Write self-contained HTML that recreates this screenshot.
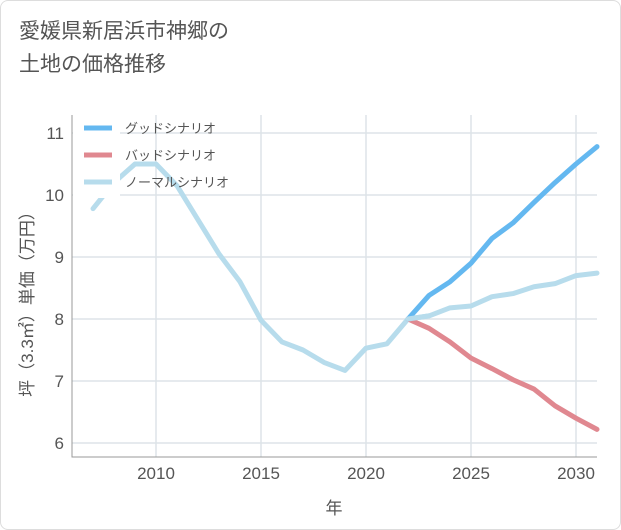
<!DOCTYPE html>
<html><head><meta charset="utf-8"><style>
body{margin:0;background:#fff;font-family:"Liberation Sans","Noto Sans CJK JP",sans-serif;}
#wrap{position:relative;width:619px;height:528px;border:1px solid #ddd;border-radius:8px;background:#fff;}
#title{position:absolute;left:18px;top:14px;font-size:21px;line-height:33px;color:#555;}
</style></head><body>
<div id="wrap">
<div id="title">愛媛県新居浜市神郷の<br>土地の価格推移</div>
<svg id="chart" width="621" height="530" style="position:absolute;left:-1px;top:-1px"></svg>
</div>
<script>
const years=[2007,2008,2009,2010,2011,2012,2013,2014,2015,2016,2017,2018,2019,2020,2021,2022,2023,2024,2025,2026,2027,2028,2029,2030,2031];
const normalValues=[9.78,10.2,10.5,10.5,10.15,9.6,9.05,8.6,7.98,7.63,7.5,7.3,7.17,7.53,7.6,8.0,8.05,8.18,8.21,8.36,8.41,8.52,8.57,8.7,8.74];
const futureYears=[2022,2023,2024,2025,2026,2027,2028,2029,2030,2031];
const goodValues=[8.0,8.38,8.6,8.9,9.3,9.55,9.88,10.2,10.5,10.78];
const badValues=[8.0,7.85,7.63,7.37,7.2,7.02,6.87,6.6,6.4,6.22];
const xTicks=[2010,2015,2020,2025,2030];
const yTicks=[6,7,8,9,10,11];
const legendLabels=["グッドシナリオ","バッドシナリオ","ノーマルシナリオ"];
const NS="http://www.w3.org/2000/svg";
const svg=document.getElementById('chart');
const L=72,R=597,T=115,B=457;
const x=v=>156+(v-2010)*21;
const y=v=>443-(v-6)*62;
function el(t,a,p){const e=document.createElementNS(NS,t);for(const k in a)e.setAttribute(k,a[k]);(p||svg).appendChild(e);return e;}
for(let yr=2007;yr<=2031;yr++){if(yr%5===0){const g=el('line',{x1:x(yr),x2:x(yr),y1:T,y2:B,stroke:'#dde3e8','stroke-width':1.5});

}}
yTicks.forEach(v=>{const g=el('line',{x1:L,x2:R,y1:y(v),y2:y(v),stroke:'#dde3e8','stroke-width':1.5});


const t=el('text',{x:L-8,y:y(v)+6,'text-anchor':'end','font-size':17,fill:'#555'});t.textContent=v;

});
xTicks.forEach(v=>{const t=el('text',{x:x(v),y:B+22,'text-anchor':'middle','font-size':17,fill:'#555'});t.textContent=v;

});
const ax=el('path',{d:`M${L},${T}V${B}H${R}`,fill:'none',stroke:'#999','stroke-width':1});


function line(xs,vs,c,name){const p=el('polyline',{points:xs.map((a,i)=>x(a)+','+y(vs[i])).join(' '),fill:'none',stroke:c,'stroke-width':5,'stroke-linejoin':'round','stroke-linecap':'round'});

}
line(years,normalValues,'#b7dcec','normal-line');
line(futureYears,badValues,'#e08890','bad-line');
line(futureYears,goodValues,'#64b8f0','good-line');
line([2022,2023],[8.0,8.05],'#b7dcec','normal-overlay');
const lg=el('rect',{x:73,y:114,width:47,height:84,fill:'#fff'});


const cols=['#64b8f0','#e08890','#b7dcec'];
legendLabels.forEach((s,i)=>{const ly=128+i*27;
const m=el('line',{x1:84,x2:112,y1:ly,y2:ly,stroke:cols[i],'stroke-width':5});


const t=el('text',{x:125,y:ly+5,'font-size':13,fill:'#555'});t.textContent=s;

});
const xt=el('text',{x:334,y:514,'text-anchor':'middle','font-size':17,fill:'#555'});xt.textContent='年';


const yt=el('text',{x:0,y:0,'text-anchor':'middle','font-size':17,fill:'#555',transform:'translate(33,300) rotate(-90)'});yt.textContent='坪（3.3㎡）単価（万円）';


</script>
</body></html>
